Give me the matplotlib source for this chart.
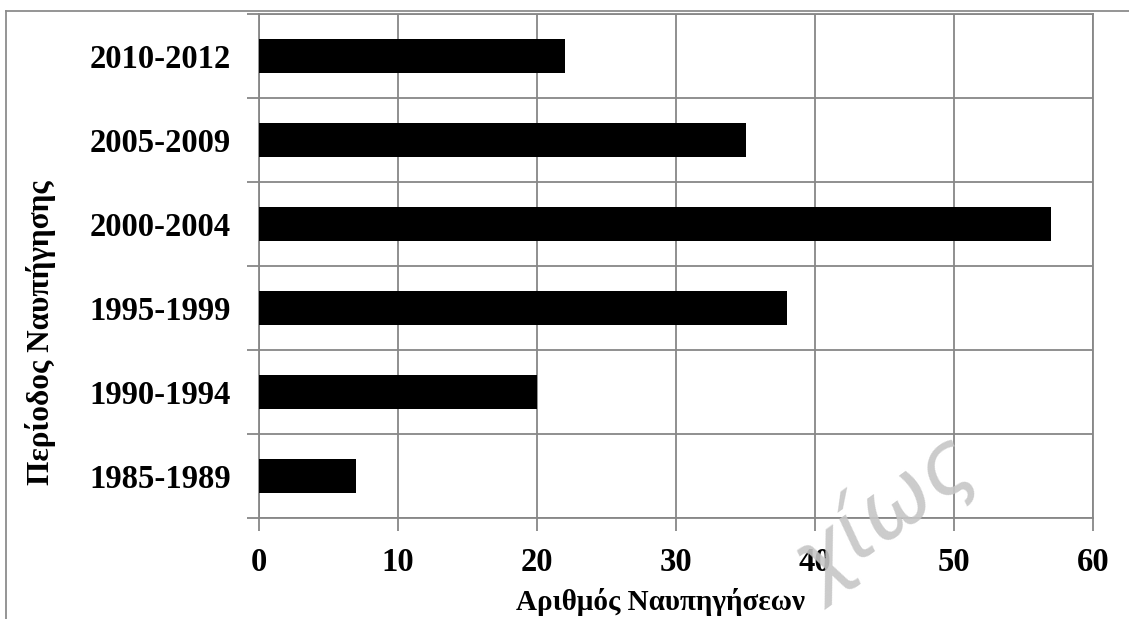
import matplotlib
matplotlib.use("Agg")
import matplotlib.pyplot as plt
from matplotlib.lines import Line2D
import numpy as np

periods = ["1985-1989", "1990-1994", "1995-1999", "2000-2004", "2005-2009", "2010-2012"]
counts = [7, 20, 38, 57, 35, 22]
x_ticks = [0, 10, 20, 30, 40, 50, 60]

x_label = "Αριθμός Ναυπηγήσεων"
y_label = "Περίοδος Ναυπήγησης"

plt.rcParams["font.family"] = ["Liberation Serif", "DejaVu Serif"]
plt.rcParams["font.weight"] = "bold"

W, H = 1129, 619
fig = plt.figure(figsize=(W / 100, H / 100), dpi=100)
ax = fig.add_axes([259 / W, 1 - 518 / H, (1093 - 259) / W, (518 - 14) / H])

grid_c = "#878787"
pos = np.arange(len(periods))
ax.barh(pos, counts, height=0.4, color="black", zorder=3)

ax.set_xlim(0, 60)
ax.set_ylim(-0.5, len(periods) - 0.5)

# category boundaries carry the ticks and gridlines; labels sit at centres
ax.set_yticks(np.arange(-0.5, len(periods), 1.0))
ax.set_yticklabels([])
ax.set_yticks(pos, minor=True)
ax.set_yticklabels(periods, minor=True)
ax.tick_params(axis="y", which="minor", length=0, pad=20, labelsize=23.5)
ax.tick_params(axis="y", which="major", length=9, width=1.3, color=grid_c)

ax.set_xticks(x_ticks)
ax.set_xticklabels([str(v) for v in x_ticks])
ax.tick_params(axis="x", length=9, width=1.3, color=grid_c, pad=12, labelsize=23.5)
for lab in ax.get_xticklabels() + ax.get_yticklabels(minor=True):
    lab.set_fontweight("bold")

ax.grid(True, which="major", color=grid_c, linewidth=1.3, zorder=0)
for s in ax.spines.values():
    s.set_color(grid_c)
    s.set_linewidth(1.3)

fig.text(661 / W, 1 - 602 / H, x_label, ha="center", va="center",
         fontsize=21, fontweight="bold")
fig.text(41 / W, 1 - 333 / H, y_label, ha="center", va="center",
         rotation=90, fontsize=22.5, fontweight="bold")

# outer frame
frame_c = "#8c8c8c"
fig.add_artist(Line2D([6 / W, 1.0], [1 - 11 / H, 1 - 11 / H],
                      transform=fig.transFigure, color=frame_c, lw=1.3))
fig.add_artist(Line2D([6 / W, 6 / W], [1 - 11 / H, 0.0],
                      transform=fig.transFigure, color=frame_c, lw=1.3))

# watermark
fig.text(885 / W, 1 - 515 / H, "χίως", ha="center", va="center",
         rotation=36, fontsize=62, color="#c6c6c6", alpha=0.9,
         family="DejaVu Sans", fontweight="normal", fontstyle="italic", zorder=10)

fig.savefig("out.png", dpi=100)
